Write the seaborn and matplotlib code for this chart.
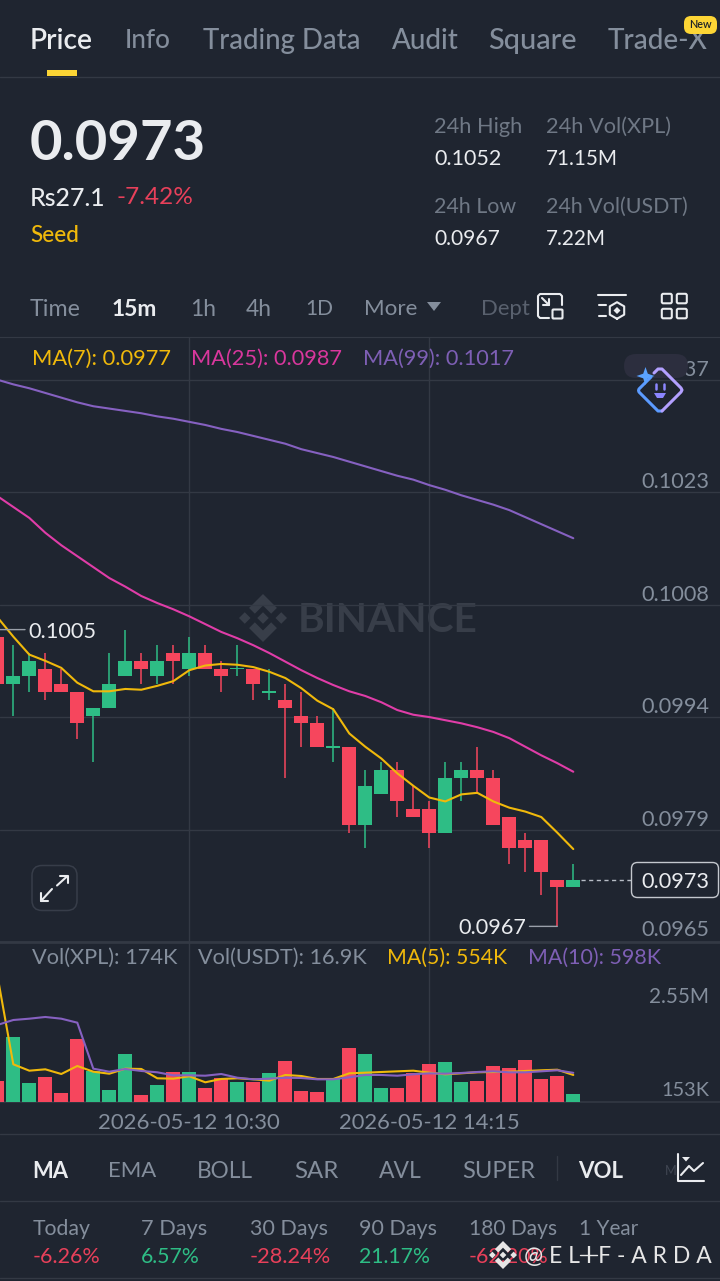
import numpy as np
import pandas as pd
import matplotlib
matplotlib.use("Agg")
import matplotlib.pyplot as plt
from matplotlib.patches import FancyBboxPatch, Polygon, Rectangle
from matplotlib.text import Text
import seaborn as sns

# ---------- data (prices in units of 0.0001, volumes in thousands) ----------
opens  = [1004,998,999,1000,998,997,994,995,999,1001,999,1002,1000,1002,1000,1000,1000,997,996,994,993,990,990,980,984,987,982,982,979,986,987,986,981,978,978,973,972]
closes = [998,999,1001,997,997,993,995,998,1001,1000,1001,1001,1002,1000,999,1000,998,997,995,993,990,990,980,985,987,983,981,979,986,987,986,980,977,977,974,972,973]
highs  = [1005,1003,1002,1002,1000,997,995,1002,1005,1002,1003,1003,1004,1003,1001,1003,1000,1000,998,997,994,995,990,987,988,988,985,983,988,988,990,987,981,979,978,973,975]
lows   = [998,994,997,996,997,991,988,995,999,998,998,998,999,1000,997,999,996,996,986,990,990,988,979,977,984,981,981,977,979,983,984,980,975,974,971,967,972]
ma7    = [1006.6,1004.1,1001.8,1001.0,1000.1,998.2,997.1,997.1,997.4,997.3,997.8,998.4,999.8,1000.4,1000.6,1000.5,1000.2,999.6,998.8,997.5,995.9,994.8,991.7,990.0,988.5,986.6,985.0,983.5,983.0,983.9,984.1,983.0,982.2,981.7,981.0,979.0,976.9]
ma25   = [1022.1,1020.7,1019.3,1017.4,1015.8,1014.4,1013.0,1011.6,1010.5,1009.3,1008.4,1007.6,1006.7,1005.7,1004.7,1003.9,1003.0,1002.0,1000.9,999.8,998.8,997.9,997.1,996.5,995.7,994.7,994.1,993.8,993.4,993.0,992.5,991.9,991.1,990.0,988.9,987.9,986.8]
ma99   = [1037.0,1036.4,1035.9,1035.3,1034.7,1034.1,1033.6,1033.3,1033.0,1032.7,1032.3,1032.0,1031.6,1031.2,1030.7,1030.3,1029.8,1029.3,1028.8,1028.1,1027.6,1027.1,1026.5,1025.9,1025.3,1024.7,1024.2,1023.5,1022.9,1022.2,1021.6,1021.0,1020.3,1019.4,1018.5,1017.6,1016.7]
volume = [430,1333,390,519,178,1298,642,246,984,150,355,615,609,287,486,416,416,595,847,232,211,465,1101,978,281,293,601,785,814,404,437,738,697,861,472,533,174]
vol_ma5  = [2604,773,642,670,574,738,621,580,683,677,486,478,527,404,472,486,465,437,554,533,472,472,588,601,615,629,642,601,568,588,609,615,621,636,650,662,554]
vol_ma10 = [1579,1681,1708,1743,1708,1626,683,621,677,636,609,547,547,539,574,498,465,478,498,492,465,465,506,554,554,539,568,588,580,595,615,629,609,609,629,650,598]
price_ticks  = [965, 979.4, 993.8, 1008.2, 1022.6, 1037.0]
price_labels = ["0.0965", "0.0979", "0.0994", "0.1008", "0.1023", "0.1037"]
time_ticks   = [12, 27]
time_labels  = ["2026-05-12 10:30", "2026-05-12 14:15"]
tabs = [("Price",30,93),("Info",125,171),("Trading Data",203,361),("Audit",392,459),("Square",488,577),("Trade-X",608,708)]
intervals = [("Time",30,81),("15m",112,158),("1h",190,216),("4h",246,272),("1D",305,333),("More",364,418)]
indicators = [("MA",32,68),("EMA",108,156),("BOLL",197,253),("SAR",294,338),("AVL",379,422),("SUPER",462,535),("VOL",578,623)]
periods = [("Today",33,91,"-6.26%",101),("7 Days",141,207,"6.57%",200),("30 Days",250,328,"-28.24%",331),
           ("90 Days",359,437,"21.17%",430),("180 Days",469,557,"-62.20%",549),("1 Year",579,638,None,None)]

# ---------- colours ----------
BG, GRID = "#1F2530", "#333944"
RED, GREEN = "#F6465D", "#2EBD85"
WHITE, GREY, DIM = "#EAECEF", "#848E9C", "#6F7885"
YEL, MAG, PUR = "#F0B90B", "#E03DA8", "#8661C1"
TXT_RED = "#E8405A"

sns.set_theme(style="dark")
plt.rcParams["font.family"] = ["Lato", "DejaVu Sans"]
plt.rcParams["axes.unicode_minus"] = False

fig = plt.figure(figsize=(7.2, 12.81), dpi=100, facecolor=BG)
W, H = 720, 1281
def axes_px(top, bottom, z):
    ax = fig.add_axes([0, (H-bottom)/H, 1, (bottom-top)/H], zorder=z)
    ax.patch.set_alpha(0)
    return ax

bg = axes_px(0, H, 0); bg.set_xlim(0, W); bg.set_ylim(H, 0); bg.axis("off")
ui = axes_px(0, H, 5); ui.set_xlim(0, W); ui.set_ylim(H, 0); ui.axis("off")

renderer = fig.canvas.get_renderer()
def fit(t, width):
    for _ in range(2):
        w = Text.get_window_extent(t, renderer).width
        t.set_fontsize(t.get_fontsize()*width/w)
    return t
def T(s, x0, x1, y, color=GREY, weight="normal", ax=ui, size=16, z=6, **kw):
    t = ax.text(x0, y+2, s, color=color, fontweight=weight, fontsize=size, ha="left", va="center", zorder=z, **kw)
    return fit(t, x1-x0)

def logo(ax, cx, cy, r, color, z=3):
    def P(pts):
        ax.add_patch(Polygon([(cx+a*r, cy+b*r) for a, b in pts], closed=True, fc=color, ec="none", zorder=z))
    chev = [(0,-1),(0.58,-0.42),(0.34,-0.18),(0,-0.52),(-0.34,-0.18),(-0.58,-0.42)]
    P(chev); P([(a,-b) for a,b in chev])
    d = 0.24
    for ox in (-0.76, 0, 0.76):
        P([(ox-d,0),(ox,-d),(ox+d,0),(ox,d)])

WM = "#383E49"
logo(bg, 263, 618, 24, WM)
T("BINANCE", 298, 478, 618, color=WM, weight="bold", ax=bg, size=30, z=1)
for y, lw in [(76.5,1.0),(1134,1.0),(1201,1.0),(1278,1.0)]:
    bg.plot([0, W], [y, y], color=GRID, lw=lw)

# ---------- price panel ----------
x0_idx, x1_idx = 2.7/16, 722.7/16
PX = 1.2804e-5
ax = axes_px(337, 942, 1)
o, c, hi, lo = [np.array(v, float)/1e4 for v in (opens, closes, highs, lows)]
idx = np.arange(len(o))
up = c >= o
cols = np.where(up, GREEN, RED)
ax.vlines(idx, lo, hi, colors=cols, lw=1.1, zorder=3)
ax.bar(idx, np.maximum(np.abs(c-o), 0.00002), width=0.875, bottom=np.minimum(o, c)-np.where(o==c, 0.00001, 0), color=cols, zorder=3, lw=0)

lines = pd.DataFrame({"i": idx, "MA(7)": np.array(ma7)/1e4, "MA(25)": np.array(ma25)/1e4, "MA(99)": np.array(ma99)/1e4}).melt("i", var_name="ma", value_name="p")
sns.lineplot(data=lines, x="i", y="p", hue="ma", palette={"MA(7)": YEL, "MA(25)": MAG, "MA(99)": PUR},
             lw=1.5, legend=False, ax=ax, zorder=4, errorbar=None)
ax.set_xlim(x0_idx, x1_idx)
ax.set_ylim(0.0965, 0.0965+605*PX)
ax.set_yticks(np.array(price_ticks)/1e4); ax.set_yticklabels([])
ax.set_xticks(time_ticks); ax.set_xticklabels([])
ax.grid(True, color=GRID, lw=1); ax.set_axisbelow(True)
ax.tick_params(length=0); ax.set_xlabel(""); ax.set_ylabel("")
sns.despine(ax=ax, left=True, bottom=True, top=False, right=True); ax.spines["top"].set_color(GRID); ax.spines["top"].set_linewidth(0.8)
for v, lab in zip(price_ticks, price_labels):
    off = 12 if v == price_ticks[0] else 10
    t = ax.annotate(lab, xy=(1, v/1e4), xycoords=("axes fraction", "data"), xytext=(-11, off), textcoords="offset pixels",
                    ha="right", va="center", color=GREY, fontsize=15, zorder=2)
    fit(t, 68)
for s, i, v, dx in [("0.1005", 0, highs[0], 31), ("0.0967", 35, lows[35], -99)]:
    t = ax.annotate(s, xy=(i, v/1e4), xytext=(dx, -2), textcoords="offset pixels", ha="left", va="center", color=WHITE, fontsize=15,
                    annotation_clip=False, zorder=5,
                    arrowprops=dict(arrowstyle="-", color="#9AA0AA", lw=1, shrinkA=0, shrinkB=0, relpos=(0 if dx > 0 else 1, 0.6)))
    fit(t, 68)
ax.hlines(closes[-1]/1e4, len(o)-0.55, len(o)+2.6, colors="#B7BDC6", lw=1, linestyles=(0, (3, 2.5)), zorder=2)

# ---------- volume panel ----------
vx = axes_px(942, 1102, 1)
vdf = pd.DataFrame({"i": idx, "vol": volume, "side": np.where(up, "up", "down")})
sns.barplot(data=vdf, x="i", y="vol", hue="side", palette={"up": GREEN, "down": RED}, native_scale=True, dodge=False,
            width=0.875, saturation=1, legend=False, ax=vx, zorder=3, linewidth=0)
mdf = pd.DataFrame({"i": idx, "MA(5)": vol_ma5, "MA(10)": vol_ma10}).melt("i", var_name="ma", value_name="v")
sns.lineplot(data=mdf, x="i", y="v", hue="ma", palette={"MA(5)": YEL, "MA(10)": PUR}, lw=1.5, legend=False, ax=vx, zorder=4, errorbar=None)
vx.set_xlim(x0_idx, x1_idx); vx.set_ylim(0, 160*20.5)
vx.set_yticks([]); vx.set_xlabel(""); vx.set_ylabel("")
vx.set_xticks(time_ticks); vx.set_xticklabels(time_labels, color=GREY, fontsize=15)
vx.tick_params(axis="x", length=0, pad=8)
vx.grid(True, axis="x", color=GRID, lw=1); vx.set_axisbelow(True)
sns.despine(ax=vx, left=True, right=True, top=False, bottom=False)
for sp, lw in (("top", 2.0), ("bottom", 1.2)):
    vx.spines[sp].set_color(GRID); vx.spines[sp].set_linewidth(lw)
for t in vx.get_xticklabels():
    fit(t, 181)

# ---------- interface text ----------
for i, (s, a, b) in enumerate(tabs):
    T(s, a, b, 39, color=WHITE if i == 0 else GREY, weight="semibold" if i == 0 else "medium", size=19)
ui.add_patch(Rectangle((47, 70), 30, 6, fc="#FCD535", ec="none", zorder=6))
ui.add_patch(FancyBboxPatch((684, 16), 33, 18, boxstyle="round,pad=0,rounding_size=7", fc="#FCD535", ec="none", zorder=7))
T("New", 689, 712, 23, color="#1E2329", weight="semibold", size=9, z=8)

T("0.0973", 30, 206, 142, color=WHITE, weight="bold", size=38)
T("Rs27.1", 30, 105, 196, color=WHITE, weight="medium", size=16)
T("-7.42%", 116, 193, 196, color=TXT_RED, size=16)
T("Seed", 30, 79, 234, color=YEL, weight="medium", size=15)
for s, a, b, y, col in [("24h High",434,522,125,DIM),("0.1052",434,501,157,WHITE),("24h Vol(XPL)",546,671,125,DIM),("71.15M",546,618,157,WHITE),
                        ("24h Low",434,516,205,DIM),("0.0967",434,500,237,WHITE),("24h Vol(USDT)",546,688,205,DIM),("7.22M",546,606,237,WHITE)]:
    T(s, a, b, y, color=col, size=15)
for s, a, b in intervals:
    T(s, a, b, 307, color=WHITE if s == "15m" else GREY, weight="bold" if s == "15m" else "normal", size=16)
ui.add_patch(Polygon([(427,302),(441,302),(434,311)], fc=GREY, ec="none", zorder=6))
T("Dept", 481, 530, 307, color="#59616E", size=16)

IC = dict(color=WHITE, lw=1.5, solid_capstyle="round", solid_joinstyle="round", zorder=7)
ui.plot([549,540,538,538,540,560,562,562], [318,318,316,296,294,294,296,305], **IC)
ui.add_patch(FancyBboxPatch((552.5,309.5), 10, 9, boxstyle="round,pad=0,rounding_size=1", fc="none", ec=WHITE, lw=1.5, zorder=7))
ui.plot([542,549], [298,305], **IC); ui.plot([549,549,543], [299,305,305], **IC)
ui.plot([598,626], [295,295], **IC); ui.plot([599,606], [305,305], **IC); ui.plot([599,606], [316,316], **IC)
ang = np.radians(np.arange(30, 391, 60)+60)
ui.plot(617+8.3*np.cos(ang), 310.5+8.3*np.sin(ang), **IC)
ui.add_patch(Polygon([(613.5,310.5),(617,307),(620.5,310.5),(617,314)], fc=WHITE, ec="none", zorder=7))
for a, b in [(661,293),(676,293),(661,308),(676,308)]:
    ui.add_patch(FancyBboxPatch((a+0.8,b+0.8), 10, 9.5, boxstyle="round,pad=0,rounding_size=1.5", fc="none", ec=WHITE, lw=1.5, zorder=7))

T("MA(7): 0.0977", 32, 171, 357, color=YEL, size=15)
T("MA(25): 0.0987", 191, 342, 357, color="#D9379D", size=15)
T("MA(99): 0.1017", 363, 514, 357, color="#7E5FB5", size=15)

# assistant button
ui.add_patch(FancyBboxPatch((624,354), 64, 24, boxstyle="round,pad=0,rounding_size=12", fc="#2C2E3E", ec="none", zorder=6))
ui.plot([651,639,638.5,639,658,662], [377,389,390.5,392,411,411], color="#5B9BFF", lw=2.2, solid_joinstyle="round", solid_capstyle="round", zorder=7)
ui.plot([662,681,682,681,662,658,654], [411,392,390,388,369,369,373], color="#B3A0FF", lw=2.2, solid_joinstyle="round", solid_capstyle="round", zorder=7)
ui.add_patch(Polygon([(645.5,367),(647.8,373.7),(654.5,376),(647.8,378.3),(645.5,385),(643.2,378.3),(636.5,376),(643.2,373.7)], fc="#5AA2FF", ec="none", zorder=8))
ui.plot([656,656], [384,389], color="#8B86FF", lw=1.8, zorder=7); ui.plot([664,664], [384,389], color="#8B86FF", lw=1.8, zorder=7)
ui.add_patch(Polygon([(654,393),(666,393),(663,398),(657,398)], fc="#8B86FF", ec="none", zorder=7))

# last price tag
ui.add_patch(FancyBboxPatch((631.5,862.5), 87, 35, boxstyle="round,pad=0,rounding_size=6", fc=BG, ec="#C4C8CE", lw=1, zorder=6))
T("0.0973", 641, 709, 880, color=WHITE, size=15, z=7)
# expand button
ui.add_patch(FancyBboxPatch((32,865.5), 45, 45, boxstyle="round,pad=0,rounding_size=10", fc="none", ec="#373D49", lw=1.1, zorder=6))
ui.plot([41,52], [901,889], **IC); ui.plot([41,41,48], [893,901,901], **IC)
ui.plot([57,67.5], [885.5,876], **IC); ui.plot([60,67.5,67.5], [876,876,883], **IC)

T("Vol(XPL): 174K", 32, 177, 956, color=GREY, size=15)
T("Vol(USDT): 16.9K", 198, 366, 956, color=GREY, size=15)
T("MA(5): 554K", 387, 507, 956, color=YEL, size=15)
T("MA(10): 598K", 528, 661, 956, color="#7E5FB5", size=15)
T("2.55M", 649, 709, 995, color=GREY, size=15)
T("153K", 661, 709, 1088, color=GREY, size=15)

for s, a, b in indicators:
    T(s, a, b, 1169, color=WHITE if s in ("MA","VOL") else GREY, weight="bold" if s in ("MA","VOL") else "normal", size=15)
ui.plot([556.5,556.5], [1156,1180], color=GRID, lw=1, zorder=6)
T("M", 665, 677, 1169, color="#3F4652", size=15)
ui.plot([677.5,677.5,704], [1154,1180.5,1180.5], **IC)
ui.plot([681,689,694,703], [1175,1166,1171,1163], **IC)
ui.add_patch(Polygon([(682,1157),(690,1157),(686,1161.5)], fc=WHITE, ec="none", zorder=7))

for s, a, b, v, e in periods:
    T(s, a, b, 1227, color=GREY, size=15)
    if v:
        T(v, a, e, 1255, color=GREEN if not v.startswith("-") else TXT_RED, size=15)

# overlaid credit
logo(ui, 503, 1255, 14, "#E6E6E6", z=8)
T("@ E L I F - A R D A", 524, 712, 1255, color="#E6E6E6", size=15, z=8)
ui.plot([580,597], [1255,1255], color="#E6E6E6", lw=1, zorder=8)

fig.savefig("out.png", dpi=100, facecolor=BG)
